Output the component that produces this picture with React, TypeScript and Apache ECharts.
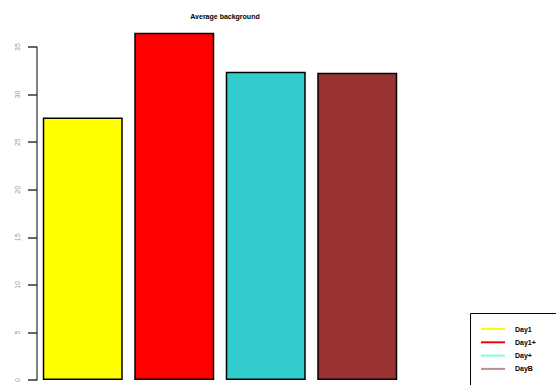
import React, { useEffect, useRef } from "react";
import * as echarts from "echarts";

const categories = ["Day1", "Day1+", "Day+", "DayB"];
const values = [27.6, 36.5, 32.4, 32.3];
const barColors = ["#ffff00", "#ff0000", "#33cccc", "#993333"];
const legendLabels = ["Day1", "Day1+", "Day+", "DayB"];
const legendColors = ["#ffff00", "#ff0000", "#7fffd4", "#bc8f8f"];
const yTicks = [0, 5, 10, 15, 20, 25, 30, 35];

export default function App() {
  const ref = useRef<HTMLDivElement>(null);

  useEffect(() => {
    if (!ref.current) return;
    const chart = echarts.init(ref.current, undefined, { renderer: "svg" });

    const legendTop = 313;
    const rowGap = 13.3;
    const legendGraphics: any[] = [
      {
        type: "rect",
        shape: { x: 470.5, y: legendTop + 0.5, width: 100, height: 90 },
        style: { fill: "#ffffff", stroke: "#000000", lineWidth: 1 },
      },
    ];
    legendLabels.forEach((label, i) => {
      const y = legendTop + 16 + i * rowGap;
      legendGraphics.push({
        type: "line",
        shape: { x1: 481, y1: y, x2: 505, y2: y },
        style: { stroke: legendColors[i], lineWidth: 2 },
      });
      legendGraphics.push({
        type: "text",
        x: 515,
        y,
        style: {
          text: label,
          fill: "#000000",
          font: "bold 7px 'Liberation Sans', Arial, sans-serif",
          textVerticalAlign: "middle",
        },
      });
    });

    chart.setOption({
      animation: false,
      backgroundColor: "#ffffff",
      title: {
        text: "Average background",
        left: 220,
        top: 8,
        textAlign: "center",
        textStyle: {
          fontSize: 7,
          fontWeight: "bold",
          fontFamily: "'Liberation Sans', Arial, sans-serif",
          color: "#000000",
        },
      },
      grid: { left: 37, right: 153, top: 47, bottom: -3 },
      xAxis: {
        type: "category",
        data: categories,
        show: false,
      },
      yAxis: {
        type: "value",
        min: 0,
        max: yTicks[yTicks.length - 1],
        interval: 5,
        splitLine: { show: false },
        axisLine: { show: true, lineStyle: { color: "#555555", width: 1.5 } },
        axisTick: { show: true, length: 9, lineStyle: { color: "#333333", width: 1.5 } },
        axisLabel: {
          rotate: 90,
          fontSize: 7,
          color: "#999999",
          margin: 16,
          fontFamily: "'Liberation Sans', Arial, sans-serif",
        },
      },
      series: [
        {
          type: "bar",
          clip: false,
          barWidth: 80,
          data: values.map((v, i) => ({
            value: v,
            itemStyle: { color: barColors[i] },
          })),
          itemStyle: { borderColor: "#000000", borderWidth: 1.5 },
        },
      ],
      graphic: legendGraphics,
    });

    return () => chart.dispose();
  }, []);

  return (
    <div
      ref={ref}
      style={{ position: "fixed", left: 0, top: 0, width: 556, height: 385 }}
    />
  );
}
